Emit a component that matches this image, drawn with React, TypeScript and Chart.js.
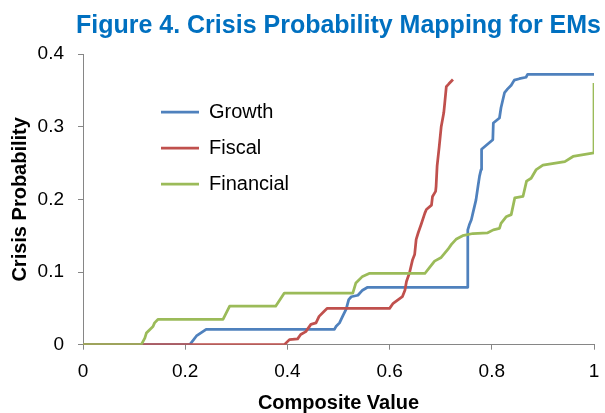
import React, { useEffect, useRef } from "react";
import { Chart, registerables } from "chart.js";

Chart.register(...registerables);

const chartTitle = "Figure 4. Crisis Probability Mapping for EMs";
const xAxisTitle = "Composite Value";
const yAxisTitle = "Crisis Probability";
const seriesNames = ["Growth", "Fiscal", "Financial"];
const seriesColors = ["#4F81BD", "#C0504D", "#9BBB59"];

const xTickValues = [0, 0.2, 0.4, 0.6, 0.8, 1];
const xTickLabels = ["0", "0.2", "0.4", "0.6", "0.8", "1"];
const yTickValues = [0, 0.1, 0.2, 0.3, 0.4];
const yTickLabels = ["0", "0.1", "0.2", "0.3", "0.4"];

const growthX = [0, 0.209, 0.222, 0.241, 0.492, 0.495, 0.502, 0.508, 0.515, 0.52, 0.525, 0.538, 0.547, 0.557, 0.753, 0.753, 0.756, 0.76, 0.763, 0.769, 0.773, 0.776, 0.779, 0.78, 0.802, 0.803, 0.815, 0.818, 0.825, 0.831, 0.838, 0.844, 0.854, 0.867, 0.87, 1.0];
const growthY = [0, 0, 0.012, 0.021, 0.021, 0.025, 0.03, 0.039, 0.049, 0.062, 0.066, 0.068, 0.075, 0.079, 0.079, 0.158, 0.165, 0.172, 0.181, 0.199, 0.218, 0.232, 0.241, 0.269, 0.282, 0.305, 0.312, 0.326, 0.347, 0.352, 0.357, 0.364, 0.366, 0.368, 0.372, 0.372];

const fiscalX = [0, 0.394, 0.404, 0.42, 0.426, 0.436, 0.446, 0.456, 0.462, 0.472, 0.478, 0.6, 0.607, 0.617, 0.625, 0.63, 0.633, 0.639, 0.645, 0.649, 0.652, 0.656, 0.662, 0.669, 0.672, 0.682, 0.684, 0.69, 0.691, 0.693, 0.697, 0.701, 0.706, 0.708, 0.711, 0.716, 0.724];
const fiscalY = [0, 0, 0.007, 0.008, 0.014, 0.018, 0.028, 0.03, 0.039, 0.046, 0.05, 0.05, 0.057, 0.062, 0.066, 0.075, 0.087, 0.099, 0.117, 0.124, 0.145, 0.154, 0.166, 0.181, 0.186, 0.192, 0.204, 0.211, 0.218, 0.246, 0.272, 0.3, 0.319, 0.333, 0.355, 0.359, 0.365];

const financialX = [0, 0.114, 0.121, 0.124, 0.131, 0.137, 0.14, 0.147, 0.274, 0.287, 0.377, 0.394, 0.528, 0.534, 0.547, 0.56, 0.669, 0.678, 0.688, 0.701, 0.714, 0.721, 0.73, 0.743, 0.763, 0.792, 0.803, 0.815, 0.818, 0.828, 0.838, 0.845, 0.861, 0.868, 0.877, 0.887, 0.9, 0.943, 0.959, 1.0, 1.0];
const financialY = [0, 0, 0.009, 0.016, 0.021, 0.025, 0.03, 0.035, 0.035, 0.053, 0.053, 0.071, 0.071, 0.085, 0.094, 0.098, 0.098, 0.106, 0.115, 0.12, 0.131, 0.138, 0.145, 0.15, 0.153, 0.154, 0.158, 0.16, 0.167, 0.176, 0.179, 0.202, 0.204, 0.225, 0.229, 0.241, 0.247, 0.252, 0.259, 0.264, 0.36];

const FONT = "'Liberation Sans', Arial, Helvetica, sans-serif";
const AXIS_GRAY = "#868686";

const toPoints = (xs: number[], ys: number[]) => xs.map((x, i) => ({ x, y: ys[i] }));

const placement = {
  id: "placement",
  afterLayout(chart: any) {
    const t = chart.titleBlock;
    if (t) {
      t.left += 7;
      t.right += 7;
    }
    const lg = chart.legend;
    if (lg) {
      lg.left = 145;
      lg.top = 86;
      lg.bottom = 86 + 300;
    }
  },
};

export default function App() {
  const ref = useRef<HTMLCanvasElement | null>(null);

  useEffect(() => {
    if (!ref.current) return;
    const allX = [growthX, fiscalX, financialX];
    const allY = [growthY, fiscalY, financialY];
    const orders = [2, 1, 0];
    const chart = new Chart(ref.current, {
      type: "line",
      data: {
        datasets: seriesNames.map((name, i) => ({
          label: name,
          data: toPoints(allX[i], allY[i]),
          borderColor: seriesColors[i],
          backgroundColor: seriesColors[i],
          borderWidth: 2.75,
          pointRadius: 0,
          pointHoverRadius: 0,
          tension: 0,
          borderJoinStyle: "round" as const,
          fill: false,
          order: orders[i],
        })),
      },
      options: {
        responsive: false,
        animation: false,
        events: [],
        layout: { padding: { left: 0, right: 11, top: 0, bottom: 0 } },
        plugins: {
          tooltip: { enabled: false },
          title: {
            display: true,
            text: chartTitle,
            align: "end",
            color: "#0070C0",
            font: { family: FONT, size: 25, weight: "bold", lineHeight: 1.2 },
            padding: { top: 11, bottom: 13 },
          },
          legend: {
            display: true,
            position: "chartArea",
            align: "start",
            labels: {
              color: "#000000",
              font: { family: FONT, size: 20 },
              usePointStyle: true,
              pointStyle: "line",
              pointStyleWidth: 38,
              padding: 16,
              sort: (a: any, b: any) => a.datasetIndex - b.datasetIndex,
            },
          },
        },
        scales: {
          x: {
            type: "linear",
            min: 0,
            max: 1,
            afterBuildTicks: (s: any) => {
              s.ticks = xTickValues.map((v) => ({ value: v }));
            },
            afterFit: (s: any) => {
              s.height = 413 - 344.7;
              s.paddingLeft = 0;
              s.paddingRight = 0;
            },
            ticks: {
              color: "#000000",
              font: { family: FONT, size: 19 },
              padding: 11,
              maxRotation: 0,
              autoSkip: false,
              callback: (_v: any, i: number) => xTickLabels[i],
            },
            grid: {
              drawOnChartArea: false,
              drawTicks: true,
              tickLength: 5,
              color: AXIS_GRAY,
            },
            border: { display: true, color: AXIS_GRAY, width: 1 },
            title: {
              display: true,
              text: xAxisTitle,
              color: "#000000",
              font: { family: FONT, size: 20, weight: "bold", lineHeight: 1.0 },
              padding: { top: 0, bottom: 0 },
            },
          },
          y: {
            type: "linear",
            min: 0,
            max: 0.4,
            afterBuildTicks: (s: any) => {
              s.ticks = yTickValues.map((v) => ({ value: v }));
            },
            afterFit: (s: any) => {
              s.width = 83;
              s.paddingTop = 0;
              s.paddingBottom = 0;
            },
            ticks: {
              color: "#000000",
              font: { family: FONT, size: 19 },
              padding: 14,
              autoSkip: false,
              callback: (_v: any, i: number) => yTickLabels[i],
            },
            grid: {
              drawOnChartArea: false,
              drawTicks: true,
              tickLength: 5,
              color: AXIS_GRAY,
            },
            border: { display: true, color: AXIS_GRAY, width: 1 },
            title: {
              display: true,
              text: yAxisTitle,
              color: "#000000",
              font: { family: FONT, size: 20, weight: "bold", lineHeight: 1.2 },
              padding: { top: 8, bottom: 0 },
            },
          },
        },
      },
      plugins: [placement],
    } as any);
    return () => chart.destroy();
  }, []);

  return (
    <div style={{ position: "fixed", left: 0, top: 0, width: 605, height: 413, background: "#ffffff" }}>
      <canvas ref={ref} width={605} height={413} style={{ display: "block" }} />
    </div>
  );
}
